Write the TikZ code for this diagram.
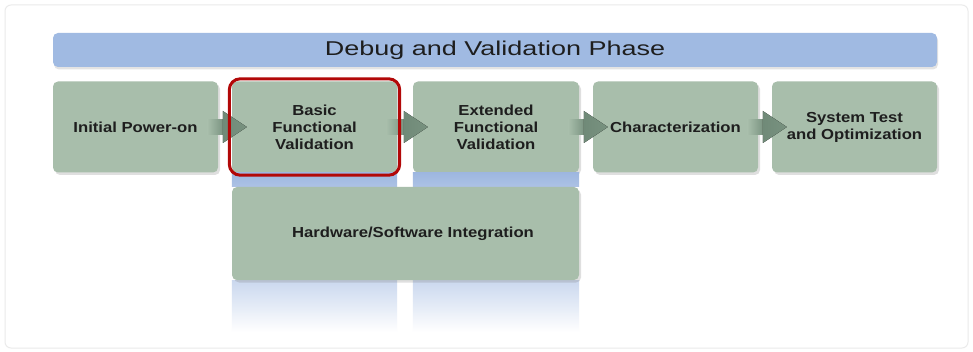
\documentclass[tikz,border=0pt]{standalone}
\usepackage{fontspec}
\usepackage{xcolor}
\usepackage{tikz}
\usetikzlibrary{calc,fit,shadows}
\newfontfamily\titlefont[FakeStretch=1.35]{Liberation Sans}
\newfontfamily\boxfont[FakeStretch=1.15]{Liberation Sans}
\definecolor{Sage}{RGB}{168,190,171}
\definecolor{SageDk}{RGB}{112,138,120}
\definecolor{Sky}{RGB}{160,186,226}
\definecolor{Column}{RGB}{158,183,224}
\definecolor{Ink}{HTML}{1E1E1E}
\definecolor{Frame}{HTML}{EBEBEB}
\definecolor{Mark}{RGB}{178,8,8}

% connector between two neighbouring steps: faded shaft plus head
\newcommand{\flowarrow}[2]{%
  \fill[left color=Sage,right color=SageDk!80!Sage]
    ($(#1.east)+(-11,-7.5)$) rectangle ($(#2.west)+(-9,7.5)$);
  \fill[left color=SageDk,right color=SageDk!85!Sage]
    ($(#2.west)+(-9,-16)$) -- ($(#2.west)+(15,0)$) -- ($(#2.west)+(-9,16)$) -- cycle;
}

\begin{document}
\begin{tikzpicture}[x=1pt,y=-1pt,
  phase/.style={fill=Sky,rounded corners=5pt,minimum width=884pt,minimum height=34pt,
    font=\titlefont\fontsize{20}{22}\selectfont,text=Ink,
    drop shadow={shadow xshift=1pt,shadow yshift=-2.5pt,opacity=0.22}},
  stage/.style={fill=Sage,rounded corners=5pt,minimum width=165pt,minimum height=91pt,
    align=center,font=\boxfont\bfseries\fontsize{14.5}{17}\selectfont,text=Ink,
    drop shadow={shadow xshift=2pt,shadow yshift=-2.5pt,opacity=0.25}},
  focus/.style={draw=Mark,line width=3pt,rounded corners=11pt,inner sep=2.5pt}
]
\useasboundingbox (0,0) rectangle (973,352);
\fill[white] (0,0) rectangle (973,352);
\draw[Frame,line width=1pt,rounded corners=6pt] (5,5) rectangle (968,348);

\node[phase] (title) at (495,50) {Debug and Validation Phase};

\node[stage] (power) at (135.5,127) {Initial Power-on};
\node[stage] (basic) at (314.5,127) {Basic\\Functional\\Validation};
\node[stage,minimum width=166pt] (extended) at (496,127) {Extended\\Functional\\Validation};
\node[stage] (charact) at (675.5,127) {Characterization};
\node[stage] (systest) at (854.5,127) {System Test\\and Optimization};

% blue columns under the two validation steps
\coordinate (hwtop) at (0,187);
\coordinate (hwbot) at (0,280);
\fill[top color=Column,bottom color=Column!85!white] (basic.south west) rectangle (basic.east |- hwtop);
\fill[top color=Column,bottom color=Column!85!white] (extended.south west) rectangle (extended.east |- hwtop);
\fill[top color=Column!55!white,bottom color=white] (basic.west |- hwbot) rectangle ($(basic.east |- hwbot)+(0,52)$);
\fill[top color=Column!55!white,bottom color=white] (extended.west |- hwbot) rectangle ($(extended.east |- hwbot)+(0,52)$);

\node[stage,minimum width=347pt,minimum height=93pt] (hwsw) at (405.5,233.5) {\hspace{15pt}Hardware/Software Integration};

\flowarrow{power}{basic}
\flowarrow{basic}{extended}
\flowarrow{extended}{charact}
\flowarrow{charact}{systest}

\node[focus,fit=(basic)] (mark) {};
\end{tikzpicture}
\end{document}
